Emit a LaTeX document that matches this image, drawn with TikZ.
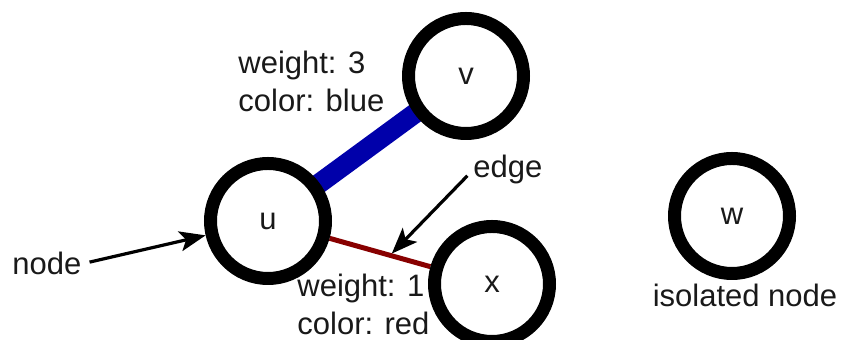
\documentclass[tikz,border=0pt]{standalone}
\usepackage{fontspec}
\setmainfont{Liberation Sans}
\usetikzlibrary{arrows.meta,backgrounds}

\definecolor{edgeblue}{RGB}{0,0,170}
\definecolor{edgered}{RGB}{136,0,0}

\begin{document}
\begin{tikzpicture}[x=0.5pt, y=-0.5pt,
  >={Stealth[length=13pt, width=10pt, inset=3pt]},
  vertex/.style={circle, draw=black, line width=6.5pt, minimum size=57.5pt,
    inner sep=0pt, font=\fontsize{15.5}{19}\selectfont, text=black!90},
  lbl/.style={align=left, inner sep=0pt, font=\fontsize{15.5}{19}\selectfont, text=black!90},
  pointer/.style={->, line width=1.6pt, shorten <=4pt}]

  \useasboundingbox (0,0) rectangle (842,340);

  % --- 1. 頂点 ---
  \node[vertex] (v) at (466,76) {v};
  \node[vertex] (u) at (268,221) {u};
  \node[vertex] (x) at (492,284) {x};
  \node[vertex] (w) at (732,216) {w};

  % --- 2. 辺 (背面に描く) ---
  \begin{scope}[on background layer]
    \draw[edgeblue, line width=10pt, shorten <=-4pt, shorten >=-4pt] (u) -- (v);
    \draw[edgered, line width=2.5pt] (u) -- (x) coordinate[pos=0.6] (uxmid);
  \end{scope}

  % --- 3. 辺のラベル ---
  \node[lbl, anchor=base west] (wblue) at (238,112) {weight: 3\\color: blue};
  \node[lbl, anchor=base west] (wred) at (297,335) {weight: 1\\color: red};

  % --- 4. 説明と矢印 ---
  \node[lbl, anchor=base west] (nodetxt) at (12,275) {node};
  \draw[pointer] (nodetxt.east) -- (u);

  \node[lbl, anchor=base west] (edgetxt) at (473,178) {edge};
  \draw[pointer, shorten >=1.2pt] (edgetxt.west) -- (uxmid);

  \node[lbl, anchor=base] (isotxt) at (745,307) {isolated node};

\end{tikzpicture}
\end{document}
